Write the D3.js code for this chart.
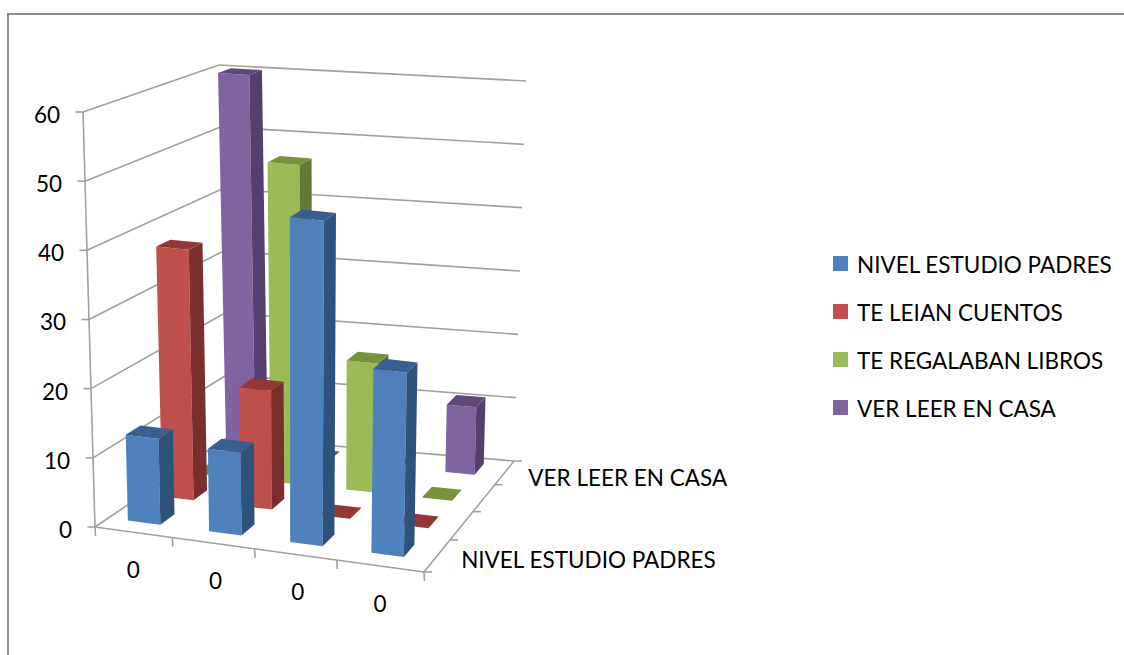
<!DOCTYPE html>
<html>
<head>
<meta charset="utf-8">
<script src="https://d3js.org/d3.v7.min.js"></script>
<style>
  html, body { margin: 0; padding: 0; background: #fff; overflow: hidden; }
  text { font-family: Lato, "Open Sans", sans-serif; font-size: 22.5px; fill: #000; }
</style>
</head>
<body>
<div class="chart"></div>
<script>
// chart data
var categories = ["0", "0", "0", "0"];
var seriesNames = ["NIVEL ESTUDIO PADRES", "TE LEIAN CUENTOS", "TE REGALABAN LIBROS", "VER LEER EN CASA"];
var nivelEstudio = [12.5, 12, 47, 26.5];
var teLeian = [37.5, 17.7, 0, 0];
var teRegalaban = [0, 49, 19.7, 0];
var verLeer = [60, 0, 0, 10.5];
var valueTicks = [0, 10, 20, 30, 40, 50, 60];
var depthLabels = ["NIVEL ESTUDIO PADRES", "", "", "VER LEER EN CASA"];

var allSeries = [nivelEstudio, teLeian, teRegalaban, verLeer];
// front, side, top
var colors = [
  ["#4f81bd", "#2f527b", "#385f8f"],
  ["#c0504d", "#7b2f2d", "#953735"],
  ["#9bbb59", "#637a36", "#76923c"],
  ["#8064a2", "#553f6e", "#5f497a"]
];

var svgWidth = 1124;
var svgHeight = 655;

var svg = d3.select(".chart")
  .append("svg")
  .attr("width", svgWidth)
  .attr("height", svgHeight)
  .style("display", "block");

// frame corners of the 3d box, floor and top
var floor = { fl: [95, 527], fr: [424, 572], br: [514, 461], bl: [228, 437] };
var roof = { fl: [83, 112], fr: [432, 150], br: [526, 81], bl: [219, 65] };

var uScale = d3.scaleBand().domain(d3.range(categories.length))
  .range([-0.015, 0.985]).paddingInner(0.6).paddingOuter(0.3);
var vScale = d3.scaleBand().domain(d3.range(seriesNames.length))
  .range([0.02, 1.02]).paddingInner(0.58).paddingOuter(0.29);
var hScale = d3.scaleLinear().domain([0, 60]).range([0, 1]);

function lerp(a, b, t) { return [a[0] + (b[0] - a[0]) * t, a[1] + (b[1] - a[1]) * t]; }
// depth is foreshortened a little towards the back
function warp(v) { return v * 1.1 / (1 + 0.1 * v); }
function plane(c, u, v) { return lerp(lerp(c.fl, c.fr, u), lerp(c.bl, c.br, u), warp(v)); }
function project(u, v, val) { return lerp(plane(floor, u, v), plane(roof, u, v), hScale(val)); }

var line = d3.line();
var axisColor = "#a0a0a0";

function stroke(a, b) {
  svg.append("path").attr("d", line([a, b]))
    .attr("fill", "none").attr("stroke", axisColor).attr("stroke-width", 1.6);
}

// outer border, cut off by the picture
svg.append("path").attr("d", line([[8, svgHeight], [8, 14], [svgWidth, 14]]))
  .attr("fill", "none").attr("stroke", "#8c8c8c").attr("stroke-width", 2);

// walls
valueTicks.forEach(function(t) {
  var front = project(0, 0, t), back = project(0, 1, t), right = project(1, 1, t);
  stroke(front, back);
  stroke(back, right);
  stroke([front[0] - 7.5, front[1]], front);
  svg.append("text")
    .attr("x", front[0] - 23)
    .attr("y", front[1] + 3)
    .attr("dy", "0.35em")
    .attr("text-anchor", "end")
    .text(t);
});
stroke(project(0, 0, 0), project(0, 0, 60));

// floor edges
stroke(project(0, 0, 0), project(1, 0, 0));
stroke(project(1, 0, 0), project(1, 1, 0));

// category ticks and labels
d3.range(categories.length + 1).forEach(function(i) {
  var u = i === 0 ? 0 : i === categories.length ? 1 : uScale(i) - uScale.step() * 0.3;
  var p = project(u, 0, 0);
  stroke(p, [p[0] + 0.5, p[1] + 9]);
});
categories.forEach(function(c, i) {
  var p = project(uScale(i) + uScale.bandwidth() / 2, 0, 0);
  svg.append("text")
    .attr("x", p[0] + 2)
    .attr("y", p[1] + 38)
    .attr("dy", "0.35em")
    .attr("text-anchor", "middle")
    .text(c);
});

// depth ticks and labels
d3.range(seriesNames.length + 1).forEach(function(i) {
  var v = i === 0 ? 0 : i === seriesNames.length ? 1 : vScale(i) - vScale.step() * 0.29;
  var p = project(1, v, 0);
  stroke(p, [p[0] + 8, p[1]]);
});
depthLabels.forEach(function(name, i) {
  var p = project(1, vScale(i) + vScale.bandwidth() / 2, 0);
  svg.append("text")
    .attr("x", p[0] + 23)
    .attr("y", p[1] + 6)
    .attr("dy", "0.35em")
    .text(name);
});

// bars, back row first
d3.range(allSeries.length).reverse().forEach(function(s) {
  allSeries[s].forEach(function(val, c) {
    var u0 = uScale(c), u1 = u0 + uScale.bandwidth();
    var v0 = vScale(s), v1 = v0 + vScale.bandwidth();
    var g = svg.append("g");
    if (val > 0) {
      g.append("path")
        .attr("d", line([project(u0, v0, 0), project(u1, v0, 0), project(u1, v0, val), project(u0, v0, val)]) + "Z")
        .attr("fill", colors[s][0]);
      g.append("path")
        .attr("d", line([project(u1, v0, 0), project(u1, v1, 0), project(u1, v1, val), project(u1, v0, val)]) + "Z")
        .attr("fill", colors[s][1]);
    }
    g.append("path")
      .attr("d", line([project(u0, v0, val), project(u1, v0, val), project(u1, v1, val), project(u0, v1, val)]) + "Z")
      .attr("fill", colors[s][2]);
  });
});

// legend
var legendY = d3.scalePoint().domain(seriesNames).range([263.5, 407.5]);
seriesNames.forEach(function(name, i) {
  svg.append("rect")
    .attr("x", 833)
    .attr("y", legendY(name) - 7.5)
    .attr("width", 15)
    .attr("height", 15)
    .attr("fill", colors[i][0]);
  svg.append("text")
    .attr("x", 857)
    .attr("y", legendY(name) + 2)
    .attr("dy", "0.35em")
    .text(name);
});
</script>
</body>
</html>
